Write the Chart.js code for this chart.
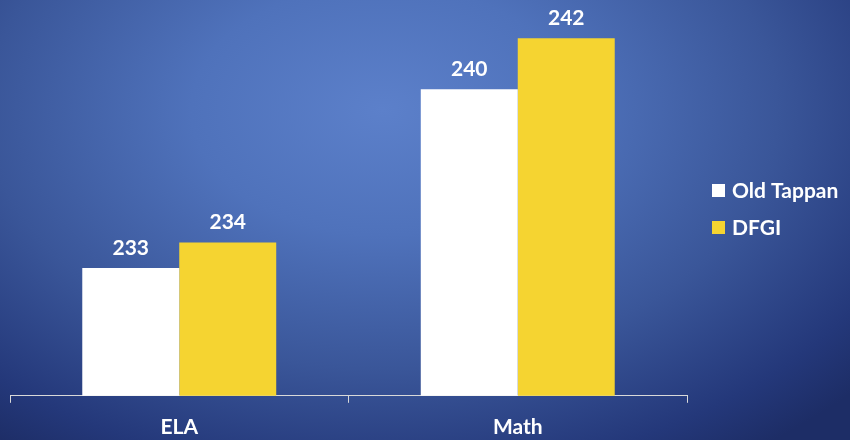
<!DOCTYPE html>
<html>
<head>
<meta charset="utf-8">
<script src="https://cdn.jsdelivr.net/npm/chart.js@4"></script>
<style>
  html, body { margin: 0; padding: 0; }
  .wrap {
    width: 850px; height: 440px; position: relative;
    background: radial-gradient(ellipse 75% 95% at 45% 25%, #5c80ca 0%, #4f72bb 30%, #3a5699 62%, #24387a 88%, #1d2d66 100%);
  }
</style>
</head>
<body>
<div class="wrap"><canvas id="scores-chart" width="850" height="440"></canvas></div>
<script>
var categories = ['ELA', 'Math'];
var oldTappan = [233, 240];
var dfgi = [234, 242];
var seriesNames = ['Old Tappan', 'DFGI'];

var FONT = 'Lato, "Open Sans", sans-serif';

// value labels over bars
var valueLabels = {
  id: 'valueLabels',
  afterDatasetsDraw: function(chart) {
    var ctx = chart.ctx;
    ctx.save();
    ctx.fillStyle = '#ffffff';
    ctx.font = 'bold 21px ' + FONT;
    ctx.textAlign = 'center';
    ctx.textBaseline = 'middle';
    chart.data.datasets.forEach(function(ds, i) {
      chart.getDatasetMeta(i).data.forEach(function(bar, j) {
        ctx.fillText(ds.data[j], bar.x, bar.y - 20);
      });
    });
    ctx.restore();
  }
};

// legend on the right
var sideLegend = {
  id: 'sideLegend',
  afterDraw: function(chart) {
    var ctx = chart.ctx;
    var x = chart.chartArea.right + 25;
    var y = 190;
    ctx.save();
    ctx.font = 'bold 21px ' + FONT;
    ctx.textBaseline = 'middle';
    chart.data.datasets.forEach(function(ds, i) {
      ctx.fillStyle = ds.backgroundColor;
      ctx.fillRect(x, y + i * 37 - 6, 13, 13);
      ctx.fillStyle = '#ffffff';
      ctx.fillText(ds.label, x + 20, y + i * 37 + 1);
    });
    ctx.restore();
  }
};

new Chart(document.getElementById('scores-chart'), {
  type: 'bar',
  data: {
    labels: categories,
    datasets: [
      { label: seriesNames[0], data: oldTappan, backgroundColor: '#ffffff' },
      { label: seriesNames[1], data: dfgi, backgroundColor: '#f5d431' }
    ]
  },
  options: {
    responsive: false,
    animation: false,
    layout: { padding: { left: 10, right: 163, top: 0, bottom: -12 } },
    datasets: { bar: { barPercentage: 1, categoryPercentage: 0.573 } },
    plugins: { legend: { display: false }, tooltip: { enabled: false } },
    scales: {
      x: {
        grid: { drawOnChartArea: false, drawTicks: true, tickLength: 7, color: '#d9d9d9', offset: true },
        border: { color: '#d9d9d9', width: 1 },
        ticks: { color: '#ffffff', padding: 12, font: { family: FONT, size: 21, weight: 'bold' } }
      },
      y: { display: false, min: 228, max: 243.5 }
    }
  },
  plugins: [valueLabels, sideLegend]
});
</script>
</body>
</html>
